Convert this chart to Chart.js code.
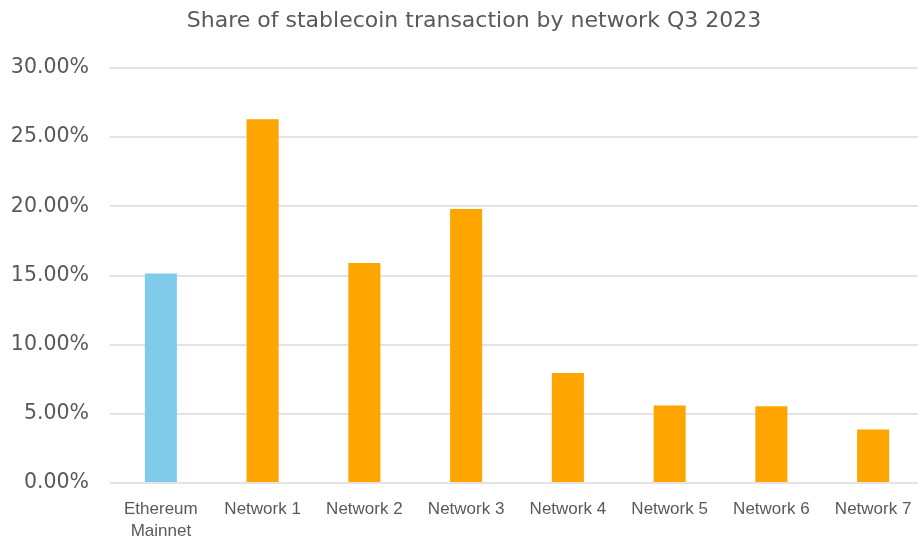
<!DOCTYPE html>
<html>
<head>
<meta charset="utf-8">
<title>Share of stablecoin transaction by network Q3 2023</title>
<script src="https://cdn.jsdelivr.net/npm/chart.js@4/dist/chart.umd.min.js"></script>
<style>
  html, body { margin: 0; padding: 0; background: #fff; overflow: hidden; }
  #wrap { width: 918px; height: 537px; overflow: hidden; }
</style>
</head>
<body>
<div id="wrap">
  <canvas id="shareChart" width="948" height="537"></canvas>
</div>
<script>
const networks = [["Ethereum", "Mainnet"], "Network 1", "Network 2", "Network 3",
                  "Network 4", "Network 5", "Network 6", "Network 7"];
const sharePct = [15.15, 26.3, 15.9, 19.8, 7.95, 5.6, 5.55, 3.87];
const yTicks = [0, 5, 10, 15, 20, 25, 30];

// mainnet in blue, the other networks in orange
const barColors = networks.map((n, i) => i === 0 ? "#80CBE9" : "#FFA500");

new Chart(document.getElementById("shareChart"), {
  type: "bar",
  data: {
    labels: networks,
    datasets: [{
      data: sharePct,
      backgroundColor: barColors,
      borderWidth: 0,
      categoryPercentage: 1,
      barPercentage: 0.315
    }]
  },
  options: {
    responsive: false,
    animation: false,
    devicePixelRatio: 1,
    layout: { padding: 0 },
    plugins: {
      legend: { display: false },
      tooltip: { enabled: false },
      title: {
        display: true,
        text: "Share of stablecoin transaction by network Q3 2023",
        color: "#595959",
        font: { family: "DejaVu Sans, sans-serif", size: 22, weight: "normal", lineHeight: 1.2 },
        padding: { top: 8, bottom: 33.6 }
      }
    },
    scales: {
      x: {
        grid: { display: false },
        border: { display: false },
        ticks: {
          color: "#595959",
          padding: 7,
          maxRotation: 0,
          autoSkip: false,
          font: { family: "Liberation Sans, Arial, sans-serif", size: 17, lineHeight: 1.3 }
        },
        afterFit: s => { s.height = 54; }
      },
      y: {
        min: 0,
        max: 30,
        afterBuildTicks: s => { s.ticks = yTicks.map(v => ({ value: v })); },
        grid: { color: "#E3E3E3", lineWidth: 2, drawTicks: false },
        border: { display: false },
        ticks: {
          color: "#595959",
          padding: 21,
          font: { family: "DejaVu Sans, sans-serif", size: 20.5 },
          callback: v => v.toFixed(2) + "%"
        },
        afterFit: s => { s.width = 110; }
      },
      // empty strip on the right so the plot ends short of the canvas edge
      yRight: {
        position: "right",
        grid: { display: false },
        border: { display: false },
        ticks: { display: false },
        afterFit: s => { s.width = 24; }
      }
    }
  }
});
</script>
</body>
</html>
